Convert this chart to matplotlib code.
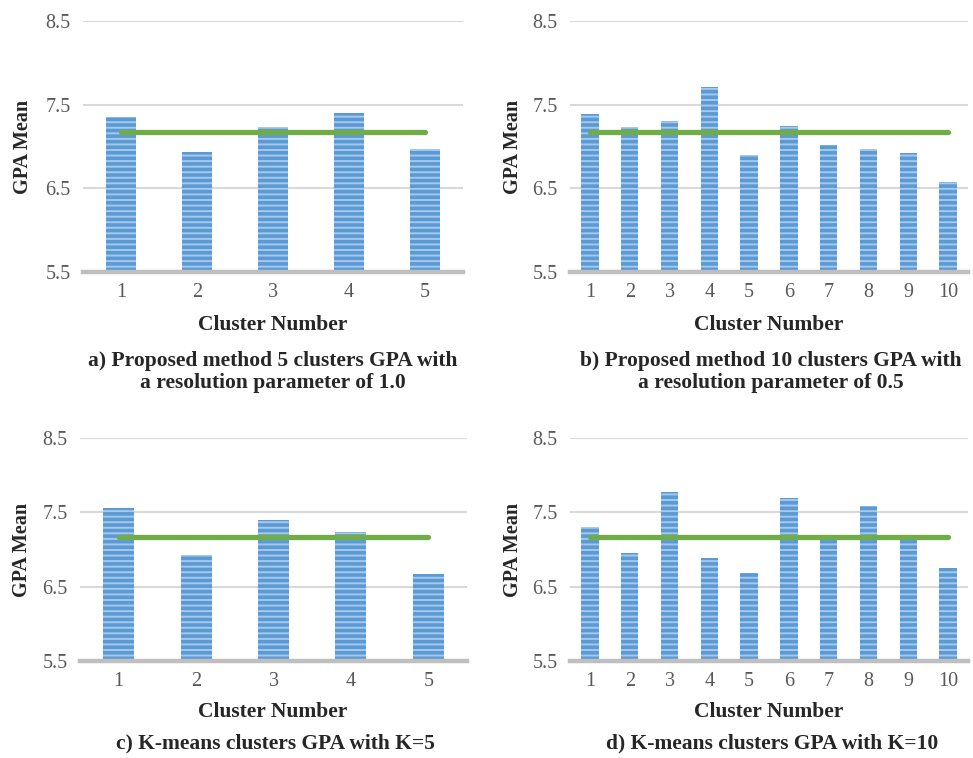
import matplotlib
matplotlib.use("Agg")
import matplotlib.pyplot as plt

# ---------------- data ----------------
clusters5 = [1, 2, 3, 4, 5]
clusters10 = [1, 2, 3, 4, 5, 6, 7, 8, 9, 10]

gpa_a = [7.35, 6.93, 7.23, 7.40, 6.97]
gpa_b = [7.39, 7.23, 7.30, 7.71, 6.90, 7.25, 7.02, 6.97, 6.92, 6.57]
gpa_c = [7.56, 6.92, 7.40, 7.23, 6.67]
gpa_d = [7.30, 6.95, 7.77, 6.89, 6.68, 7.69, 7.15, 7.58, 7.14, 6.75]

overall_mean = 7.17

y_ticks = [5.5, 6.5, 7.5, 8.5]

captions = [
    "a) Proposed method 5 clusters GPA with\na resolution parameter of 1.0",
    "b) Proposed method 10 clusters GPA with\na resolution parameter of 0.5",
    "c) K-means clusters GPA with K=5",
    "d) K-means clusters GPA with K=10",
]

# ---------------- style ----------------
plt.rcParams['hatch.linewidth'] = 2.6
SERIF = ['Liberation Serif', 'DejaVu Serif']
BAR_FACE = '#a7c8eb'
BAR_STRIPE = '#5b9bd5'
GREEN = '#70ad47'

W, H = 973, 758
fig = plt.figure(figsize=(W / 100, H / 100), dpi=100)


def px_axes(left, top, right, bottom):
    return fig.add_axes([left / W, 1 - bottom / H, (right - left) / W, (bottom - top) / H])


panels = [
    (px_axes(83, 21, 463, 272), clusters5, gpa_a, 0.40, -0.158, captions[0]),
    (px_axes(570, 21, 968, 272), clusters10, gpa_b, 0.435, -0.142, captions[1]),
    (px_axes(80, 438, 467, 661), clusters5, gpa_c, 0.40, -0.149, captions[2]),
    (px_axes(570, 438, 968, 661), clusters10, gpa_d, 0.435, -0.143, captions[3]),
]

for ax, xs, vals, bw, ylab_x, cap in panels:
    n = len(xs)
    ax.bar(xs, [v - 5.5 for v in vals], bottom=5.5, width=bw,
           color=BAR_FACE, edgecolor=BAR_STRIPE, linewidth=0,
           hatch='---', zorder=2)
    ax.plot(xs, [overall_mean] * n, color=GREEN, lw=3.8,
            solid_capstyle='round', zorder=3)
    ax.set_xlim(0.5, n + 0.5)
    ax.set_ylim(5.5, 8.5)
    ax.set_yticks(y_ticks)
    ax.set_yticklabels([f"{t:.1f}" for t in y_ticks])
    ax.set_xticks(xs)
    ax.set_xticklabels([str(x) for x in xs])
    ax.grid(axis='y', color='#d9d9d9', lw=1.5, zorder=0)
    ax.set_axisbelow(True)
    for s in ['top', 'right', 'left']:
        ax.spines[s].set_visible(False)
    ax.spines['bottom'].set_color('#bfbfbf')
    ax.spines['bottom'].set_linewidth(3.2)
    ax.spines['bottom'].set_zorder(4)
    ax.tick_params(axis='both', length=0, labelsize=14.5, labelcolor='#595959')
    ax.tick_params(axis='y', pad=9)
    ax.tick_params(axis='x', pad=8)
    for lab in ax.get_xticklabels() + ax.get_yticklabels():
        lab.set_family(SERIF)
    ax.text(ylab_x, 0.5, "GPA Mean", transform=ax.transAxes, rotation=90,
            ha='center', va='center', fontsize=14.5, fontweight='bold',
            family=SERIF, color='#262626')

# x labels and captions (pixel positions)
xlabel_pos = [(273, 325), (769, 325), (273, 712), (769, 712)]
for (x, y) in xlabel_pos:
    fig.text(x / W, 1 - y / H, "Cluster Number", ha='center', va='center',
             fontsize=15.5, fontweight='bold', family=SERIF, color='#262626')

cap_pos = [(273, 372), (771, 372), (275, 743), (772, 743)]
for (x, y), cap in zip(cap_pos, captions):
    fig.text(x / W, 1 - y / H, cap, ha='center', va='center',
             fontsize=15.5, fontweight='bold', family=SERIF, color='#262626',
             linespacing=1.18)

fig.savefig("out.png", dpi=100, facecolor='white')
